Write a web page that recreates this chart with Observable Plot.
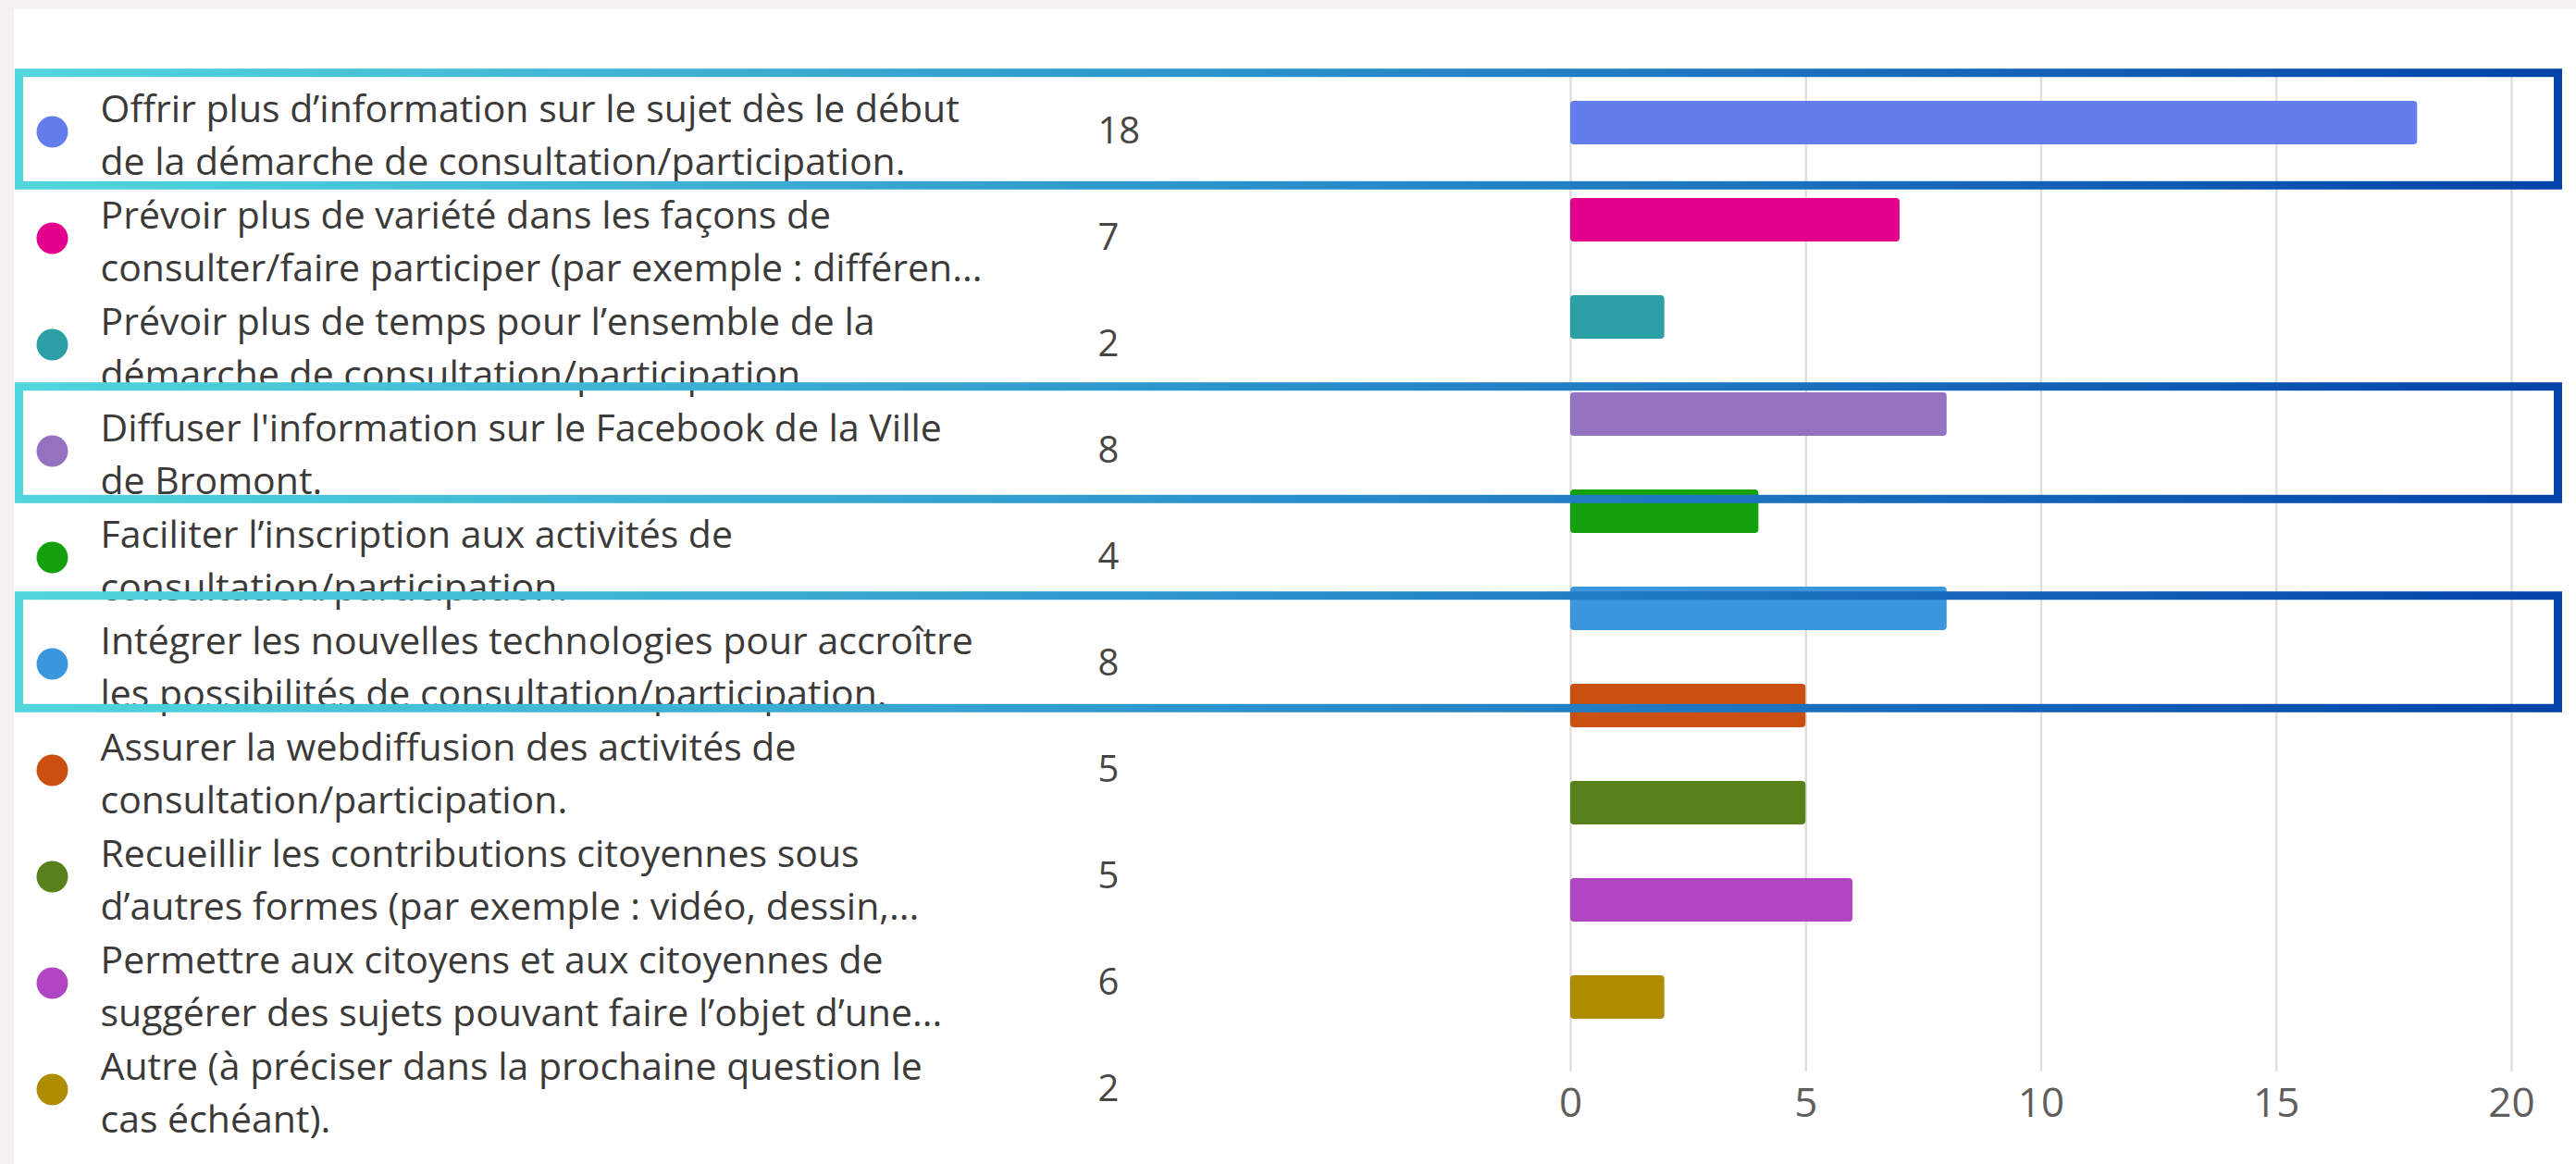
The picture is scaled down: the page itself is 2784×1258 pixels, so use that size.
<!DOCTYPE html>
<html><head><meta charset="utf-8">
<script src="https://cdn.jsdelivr.net/npm/d3@7"></script>
<script src="https://cdn.jsdelivr.net/npm/@observablehq/plot@0.6"></script>
<style>
html,body{margin:0;padding:0;background:#f3f2f1;overflow:hidden}
#wrap{position:relative;width:2784px;height:1258px;background:#f3f2f1}
#card{position:absolute;left:15px;top:10px;right:0;bottom:0;background:#fff}
#wrap svg{position:absolute;left:0;top:0}
</style></head><body>
<div id="wrap"><div id="card"></div></div>
<script>
// ---- data ----
const labels = [
  "Offrir plus d’information sur le sujet dès le début\nde la démarche de consultation/participation.",
  "Prévoir plus de variété dans les façons de\nconsulter/faire participer (par exemple : différen...",
  "Prévoir plus de temps pour l’ensemble de la\ndémarche de consultation/participation.",
  "Diffuser l'information sur le Facebook de la Ville\nde Bromont.",
  "Faciliter l’inscription aux activités de\nconsultation/participation.",
  "Intégrer les nouvelles technologies pour accroître\nles possibilités de consultation/participation.",
  "Assurer la webdiffusion des activités de\nconsultation/participation.",
  "Recueillir les contributions citoyennes sous\nd’autres formes (par exemple : vidéo, dessin,...",
  "Permettre aux citoyens et aux citoyennes de\nsuggérer des sujets pouvant faire l’objet d’une...",
  "Autre (à préciser dans la prochaine question le\ncas échéant)."
];
const counts = [18, 7, 2, 8, 4, 8, 5, 5, 6, 2];
const colors = ["#647ded", "#e3008c", "#2aa0a4", "#9373c0", "#13a10e",
                "#3a96dd", "#ca5010", "#57811b", "#b146c2", "#ae8c00"];
const xTicks = [0, 5, 10, 15, 20];
const highlighted = [labels[0], labels[3], labels[5]];

const rows = labels.map((label, i) => ({label, count: counts[i], color: colors[i]}));
const W = 2784, H = 1258;
const font = "Open Sans";

// ---- bars ----
const bars = Plot.plot({
  width: W, height: H,
  marginLeft: 1697, marginRight: 70, marginTop: 78, marginBottom: 100,
  style: {background: "transparent", fontFamily: font, overflow: "visible"},
  x: {domain: [0, 20]},
  y: {type: "band", domain: labels, range: [108, 1102], paddingInner: 0.553, paddingOuter: 0, axis: null},
  color: {type: "identity"},
  marks: [
    Plot.gridX(xTicks, {stroke: "#e1dfdd", strokeWidth: 2.5, strokeOpacity: 1}),
    Plot.barX(rows, {x: "count", y: "label", fill: d => d.color, rx: 4}),
    Plot.axisX(xTicks, {tickSize: 0, tickPadding: 17, fontSize: 44, color: "#605e5c", fontFamily: font, label: null})
  ]
});

// ---- legend list ----
const legend = Plot.plot({
  width: W, height: H, margin: 0,
  style: {background: "transparent", fontFamily: font, overflow: "visible"},
  y: {type: "point", domain: labels, range: [140, 1178.6], padding: 0, axis: null},
  color: {type: "identity"},
  marks: [
    Plot.dot(rows, {y: "label", frameAnchor: "left", dx: 56, r: 17, fill: d => d.color}),
    Plot.text(rows, {y: "label", text: "label", frameAnchor: "left", dx: 108, textAnchor: "start",
      lineAnchor: "middle", lineHeight: 1.39, fontSize: 41, fill: "#3b3a39", fontFamily: font}),
    Plot.text(rows, {y: "label", text: d => String(d.count), frameAnchor: "left", dx: 1186,
      textAnchor: "start", fontSize: 40, fill: "#484644", fontFamily: font})
  ]
});

// ---- highlight boxes ----
const boxes = Plot.plot({
  width: W, height: H, marginLeft: 20.5, marginRight: 19.5, marginTop: 0, marginBottom: 0,
  style: {background: "transparent", overflow: "visible"},
  y: {type: "band", domain: labels, range: [80.8, 1214.2], padding: 0, axis: null},
  marks: [
    Plot.cell(highlighted, {y: d => d, fill: "none", stroke: "url(#boxGrad)", strokeWidth: 9,
      insetTop: -4.3, insetBottom: -4.3})
  ]
});
const ns = "http://www.w3.org/2000/svg";
const defs = document.createElementNS(ns, "defs");
defs.innerHTML = '<linearGradient id="boxGrad" x1="0" y1="0" x2="1" y2="0">' +
  '<stop offset="0" stop-color="#52d6dd"/><stop offset="0.5" stop-color="#2a8fcb"/>' +
  '<stop offset="1" stop-color="#0443aa"/></linearGradient>';
boxes.insertBefore(defs, boxes.firstChild);

const wrap = document.getElementById("wrap");
wrap.appendChild(bars);
wrap.appendChild(legend);
wrap.appendChild(boxes);
</script>
</body></html>
